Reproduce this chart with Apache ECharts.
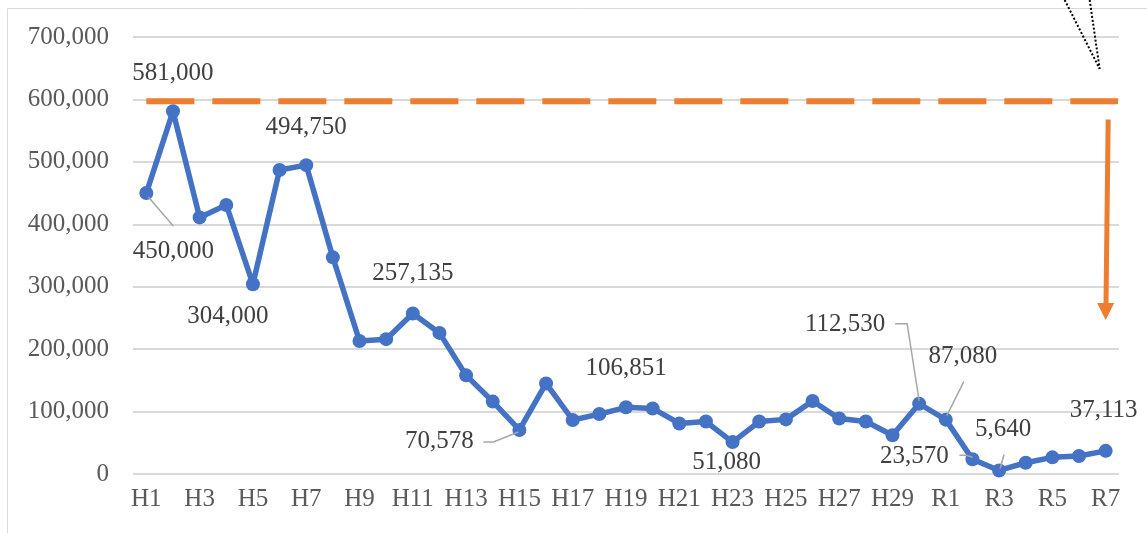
<!DOCTYPE html>
<html><head><meta charset="utf-8">
<script src="https://cdn.jsdelivr.net/npm/echarts@6/dist/echarts.min.js"></script>
<style>html,body{margin:0;padding:0;background:#fff}#c{width:1147px;height:533px}</style>
</head><body><div id="c"></div>
<script>
const categories = ['H1','H2','H3','H4','H5','H6','H7','H8','H9','H10','H11','H12','H13','H14','H15','H16','H17','H18','H19','H20','H21','H22','H23','H24','H25','H26','H27','H28','H29','H30','R1','R2','R3','R4','R5','R6','R7'];
const values = [450000,581000,411000,431000,304000,487000,494750,347000,213000,216000,257135,226000,158000,116000,70578,145000,86500,96000,106851,105000,81000,84000,51080,84000,87500,117000,89000,84000,62000,112530,87080,23570,5640,18000,26700,28800,37113];
const labeledIdx = [0,1,4,6,10,14,18,22,29,30,31,32,36];
const targetValue = 597000;
const yTicks = [0,100000,200000,300000,400000,500000,600000,700000];

// label placement (pixel offsets from point centre) - style only
const labelOffsets = {0:[27,58],1:[0,-38],4:[-25,32],6:[0,-38],10:[0,-40],14:[-80,11],18:[0,-39],22:[-6,20],29:[-74,-79],30:[17,-63],31:[-58,-3],32:[4,-41],36:[-2,-40]};
const leaderOffsets = {0:[[2,4],[27,33]],14:[[-36,12],[-26,12],[-1,2]],29:[[-24,-80],[-12,-80],[0,-3]],30:[[18,-38],[1,-4]],31:[[-13,-4],[-6,-4],[0,-2]],32:[[5,-16],[1,-2]]};

const FONT = 'Liberation Serif';
const fmt = v => v.toLocaleString('en-US');

const lineData = values.map((v,i) => {
  if (labeledIdx.includes(i)) {
    return {value: v, label: {show: true, position: 'inside', align: 'center', verticalAlign: 'middle', offset: labelOffsets[i]}};
  }
  return v;
});

const chart = echarts.init(document.getElementById('c'), null, {renderer: 'canvas'});
const option = {
  animation: false,
  backgroundColor: '#fff',
  grid: {left: 133, right: 28, top: 37, bottom: 59, containLabel: false},
  xAxis: {
    type: 'category', data: categories, boundaryGap: true,
    axisLine: {show: false}, axisTick: {show: false},
    axisLabel: {interval: 1, margin: 13, fontFamily: FONT, fontSize: 25, color: '#595959'}
  },
  yAxis: {
    type: 'value', min: yTicks[0], max: yTicks[yTicks.length-1], interval: 100000,
    axisLine: {show: false}, axisTick: {show: false},
    splitLine: {lineStyle: {color: '#d9d9d9', width: 2}},
    axisLabel: {margin: 24, fontFamily: FONT, fontSize: 25, color: '#595959', formatter: v => fmt(v)}
  },
  series: [
    {
      type: 'line', data: lineData, z: 3,
      symbol: 'circle', symbolSize: 14,
      lineStyle: {color: '#4472C4', width: 5.5},
      itemStyle: {color: '#4472C4'},
      label: {show: false, fontFamily: FONT, fontSize: 25, color: '#404040', formatter: p => fmt(p.value)}
    },
    {
      type: 'custom', z: 4, silent: true,
      data: Object.keys(leaderOffsets).map(k => [Number(k), values[Number(k)]]),
      encode: {x: 0, y: 1},
      renderItem: (params, api) => {
        const i = api.value(0);
        const p = api.coord([i, api.value(1)]);
        const pts = leaderOffsets[i].map(o => [p[0]+o[0], p[1]+o[1]]);
        return {type: 'polyline', shape: {points: pts}, style: {stroke: '#a6a6a6', lineWidth: 1.5, fill: null}};
      }
    }
  ]
};
chart.setOption(option);

// decorations computed via the library's scales
const gridRect = chart.getModel().getComponent('grid').coordinateSystem.getRect();
const pStart = chart.convertToPixel({gridIndex: 0}, [0, targetValue]);
const pR7top = chart.convertToPixel({gridIndex: 0}, [categories.length-1, 568000]);
const pR7bot = chart.convertToPixel({gridIndex: 0}, [categories.length-1, 246500]);
const pDot = chart.convertToPixel({gridIndex: 0}, [categories.length-1, 649000]);
const xEnd = gridRect.x + gridRect.width - 1;
chart.setOption({
  graphic: [
    {type: 'rect', shape: {x: 7.5, y: 8.5, width: 1200, height: 600}, style: {stroke: '#d9d9d9', lineWidth: 1, fill: null}, z: 0, silent: true},
    {type: 'line', shape: {x1: pStart[0], y1: pStart[1], x2: xEnd, y2: pStart[1]}, style: {stroke: '#ED7D31', lineWidth: 6, lineDash: [48, 18], lineCap: 'butt'}, z: 2},
    {type: 'line', shape: {x1: pR7top[0]+2.5, y1: pR7top[1], x2: pR7bot[0]+0.3, y2: pR7bot[1]-14}, style: {stroke: '#ED7D31', lineWidth: 5}, z: 5},
    {type: 'polygon', shape: {points: [[pR7bot[0]-8.5, pR7bot[1]-17], [pR7bot[0]+8.5, pR7bot[1]-17], [pR7bot[0], pR7bot[1]]]}, style: {fill: '#ED7D31'}, z: 5},
    {type: 'line', shape: {x1: pDot[0]-41, y1: 0, x2: pDot[0]-6, y2: pDot[1]}, style: {stroke: '#000', lineWidth: 2, lineDash: [2, 2]}, z: 5},
    {type: 'line', shape: {x1: pDot[0]-16, y1: 0, x2: pDot[0]-6, y2: pDot[1]}, style: {stroke: '#000', lineWidth: 2, lineDash: [2, 2]}, z: 5}
  ]
});
</script>
</body></html>
